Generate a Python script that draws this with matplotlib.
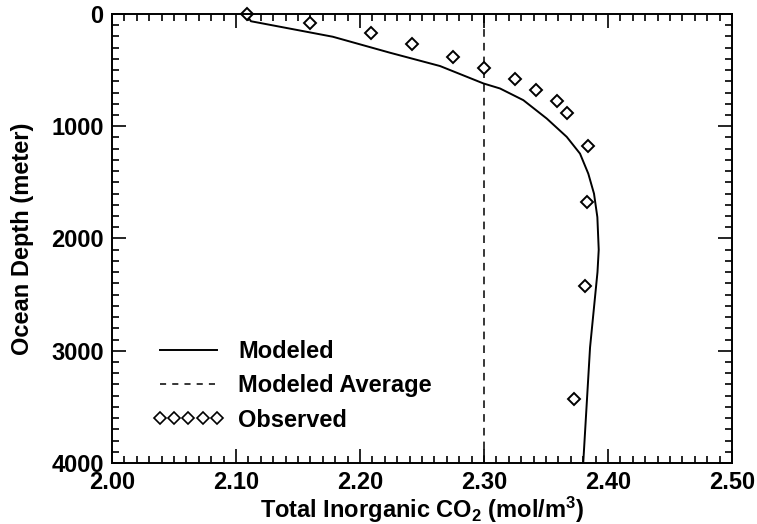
import numpy as np
import matplotlib
matplotlib.use('Agg')
import matplotlib.pyplot as plt
from matplotlib.ticker import MultipleLocator, FormatStrFormatter
from matplotlib.lines import Line2D

plt.rcParams['font.family'] = ['Liberation Sans', 'DejaVu Sans']
plt.rcParams['font.weight'] = 'bold'
plt.rcParams['mathtext.fontset'] = 'custom'
plt.rcParams['mathtext.rm'] = 'Liberation Sans:bold'
plt.rcParams['mathtext.it'] = 'Liberation Sans:bold'
plt.rcParams['mathtext.bf'] = 'Liberation Sans:bold'
plt.rcParams['mathtext.default'] = 'rm'

# modeled profile (CO2, depth)
model_co2 = [2.108, 2.112, 2.178, 2.224, 2.2645, 2.2995, 2.3129, 2.3317, 2.3506,
             2.3667, 2.3774, 2.3841, 2.3887, 2.3914, 2.3925, 2.3915, 2.3855, 2.380]
model_depth = [0, 65, 203, 345, 464, 619, 664, 768, 932,
               1095, 1244, 1423, 1601, 1810, 2100, 2300, 2971, 4000]

# modeled average
avg_co2 = 2.30

# observed
obs_co2 = [2.109, 2.160, 2.209, 2.242, 2.275, 2.300, 2.325, 2.342, 2.359,
           2.367, 2.384, 2.383, 2.3815, 2.3726]
obs_depth = [5, 78, 173, 271, 381, 485, 580, 679, 774,
             881, 1176, 1676, 2426, 3426]

fig = plt.figure(figsize=(7.57, 5.24), dpi=100)
ax = fig.add_axes([0.148, 0.1164, 0.819, 0.857])

ax.plot(model_co2, model_depth, color='black', lw=1.4, label='Modeled')
ax.axvline(avg_co2, color='black', lw=1.1, ls=(0, (5, 4)), label='Modeled Average')
ax.plot(obs_co2, obs_depth, ls='none', marker='D', ms=6.5, mfc='white',
        mec='black', mew=1.4, clip_on=False, label='Observed')

ax.set_xlim(2.0, 2.5)
ax.set_ylim(4000, 0)
ax.xaxis.set_major_locator(MultipleLocator(0.1))
ax.xaxis.set_minor_locator(MultipleLocator(0.01))
ax.xaxis.set_major_formatter(FormatStrFormatter('%.2f'))
ax.yaxis.set_major_locator(MultipleLocator(1000))
ax.yaxis.set_minor_locator(MultipleLocator(100))

ax.tick_params(which='both', direction='in', top=True, right=True, labelsize=17, width=1.2)
ax.tick_params(which='major', length=10, pad=6)
ax.tick_params(which='minor', length=5)
for s in ax.spines.values():
    s.set_linewidth(1.4)

ax.set_xlabel('Total Inorganic CO$_2$ (mol/m$^3$)', fontsize=17, fontweight='bold', labelpad=0)
ax.set_ylabel('Ocean Depth (meter)', fontsize=17, fontweight='bold', labelpad=12)

handles = [
    Line2D([], [], color='black', lw=1.4),
    Line2D([], [], color='black', lw=1.1, ls=(0, (4, 4))),
    Line2D([], [], ls='none', marker='D', ms=6, mfc='white', mec='black', mew=1.2),
]
ax.legend(handles, ['Modeled', 'Modeled Average', 'Observed'], loc='lower left',
          bbox_to_anchor=(0.066, 0.07), frameon=False, fontsize=17, numpoints=5,
          handlelength=3.0, handletextpad=0.6, labelspacing=0.48, borderpad=0,
          borderaxespad=0)

fig.savefig('out.png', dpi=100)
